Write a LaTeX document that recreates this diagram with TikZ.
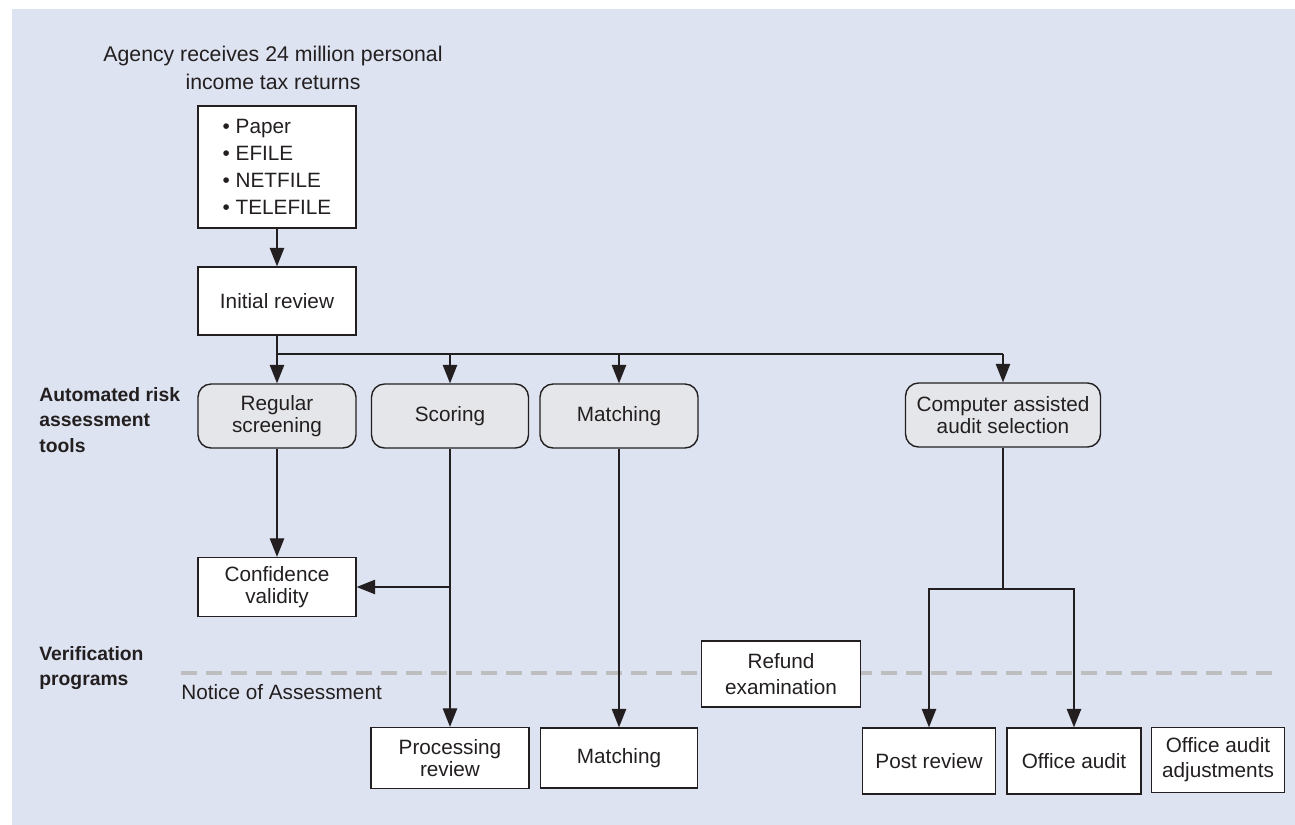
\documentclass[tikz,border=0pt]{standalone}
\usepackage{fontspec}
\setmainfont{Liberation Sans}
\usepackage{tikz}
\usetikzlibrary{arrows.meta,positioning,calc}
\definecolor{panelblue}{RGB}{221,227,240}
\definecolor{toolgray}{RGB}{229,230,233}
\definecolor{inkdark}{RGB}{35,31,32}
\definecolor{dashgray}{RGB}{190,190,190}

\begin{document}
\begin{tikzpicture}[x=0.02cm, y=-0.02cm,
    every node/.style={font=\fontsize{11.8}{12.2}\selectfont, text=inkdark},
    progbox/.style={draw=inkdark, line width=0.8pt, fill=white, align=center, inner sep=0pt},
    toolbox/.style={progbox, fill=toolgray, rounded corners=0.26cm},
    wire/.style={line width=0.7pt, draw=inkdark},
    flow/.style={wire, -{Triangle[length=0.37cm, width=0.29cm]}},
    lane/.style={font=\fontsize{11}{14.3}\selectfont\bfseries, align=left, anchor=west, inner sep=0pt}]

    % Background panel
    \fill[panelblue] (12,9) rectangle (1295,825);
    \useasboundingbox (0,0) rectangle (1295,825);

    % Incoming returns
    \node[align=center, inner sep=0pt, font=\fontsize{12.1}{16}\selectfont] (title) at (273,68) {Agency receives 24 million personal\\income tax returns};
    \node[progbox, align=left, font=\fontsize{11.8}{15.5}\selectfont, minimum width=3.16cm, minimum height=2.44cm] (src) at (277,167) {\textbullet\ Paper\\\textbullet\ EFILE\\\textbullet\ NETFILE\\\textbullet\ TELEFILE};
    \node[progbox, minimum width=3.16cm, minimum height=1.36cm] (init) at (277,301) {Initial review};

    % Automated risk assessment tools
    \node[toolbox, minimum width=3.16cm, minimum height=1.28cm] (reg) at (277,416) {Regular\\screening};
    \node[toolbox, minimum width=3.14cm, minimum height=1.28cm] (scor) at (450,416) {Scoring};
    \node[toolbox, minimum width=3.16cm, minimum height=1.28cm] (match) at (619,416) {Matching};
    \node[toolbox, minimum width=3.9cm, minimum height=1.28cm] (caas) at (1003,415) {Computer assisted\\audit selection};
    \node[progbox, minimum width=3.16cm, minimum height=1.18cm] (conf) at (277,587) {Confidence\\validity};

    % Lane labels
    \node[lane] (tools) at (39,420) {Automated risk\\assessment\\tools};
    \node[lane] (verif) at (39,668) {Verification\\programs};

    % Notice of Assessment line
    \coordinate (noal) at (181,673);
    \coordinate (noar) at (1273,673);
    \draw[dashgray, line width=1.8pt, dash pattern=on 0.32cm off 0.18cm] (noal) -- (noar);
    \node[anchor=west, inner sep=0pt] (noa) at (181,692) {Notice of Assessment};

    % Verification programs
    \node[progbox, minimum width=3.18cm, minimum height=1.32cm] (refund) at (781,674) {Refund\\[2.5pt]examination};
    \node[progbox, minimum width=3.16cm, minimum height=1.22cm] (proc) at (450,758) {Processing\\review};
    \node[progbox, minimum width=3.14cm, minimum height=1.2cm] (match2) at (619,758) {Matching};
    \node[progbox, minimum width=2.66cm, minimum height=1.32cm] (post) at (929,761) {Post review};
    \node[progbox, minimum width=2.68cm, minimum height=1.32cm] (office) at (1074,761) {Office audit};
    \node[progbox, minimum width=2.66cm, minimum height=1.3cm] (adj) at (1218,760) {Office audit\\[2pt]adjustments};

    % Connectors
    \draw[flow] (src) -- (init);
    \coordinate (split) at (277,354);
    \draw[wire] (init.south) -- (split) -- (split -| caas.north);
    \foreach \t in {reg, scor, match, caas}
        \draw[flow] (split -| \t.north) -- (\t.north);
    \draw[flow] (reg) -- (conf);
    \coordinate (tap) at (scor.south |- conf.east);
    \draw[flow] (tap) -- (conf.east);
    \draw[flow] (scor) -- (proc);
    \draw[flow] (match) -- (match2);
    \coordinate (fork) at (1003,589);
    \draw[wire] (caas) -- (fork);
    \draw[flow] (fork) -| (post.north);
    \draw[flow] (fork) -| (office.north);
\end{tikzpicture}
\end{document}
